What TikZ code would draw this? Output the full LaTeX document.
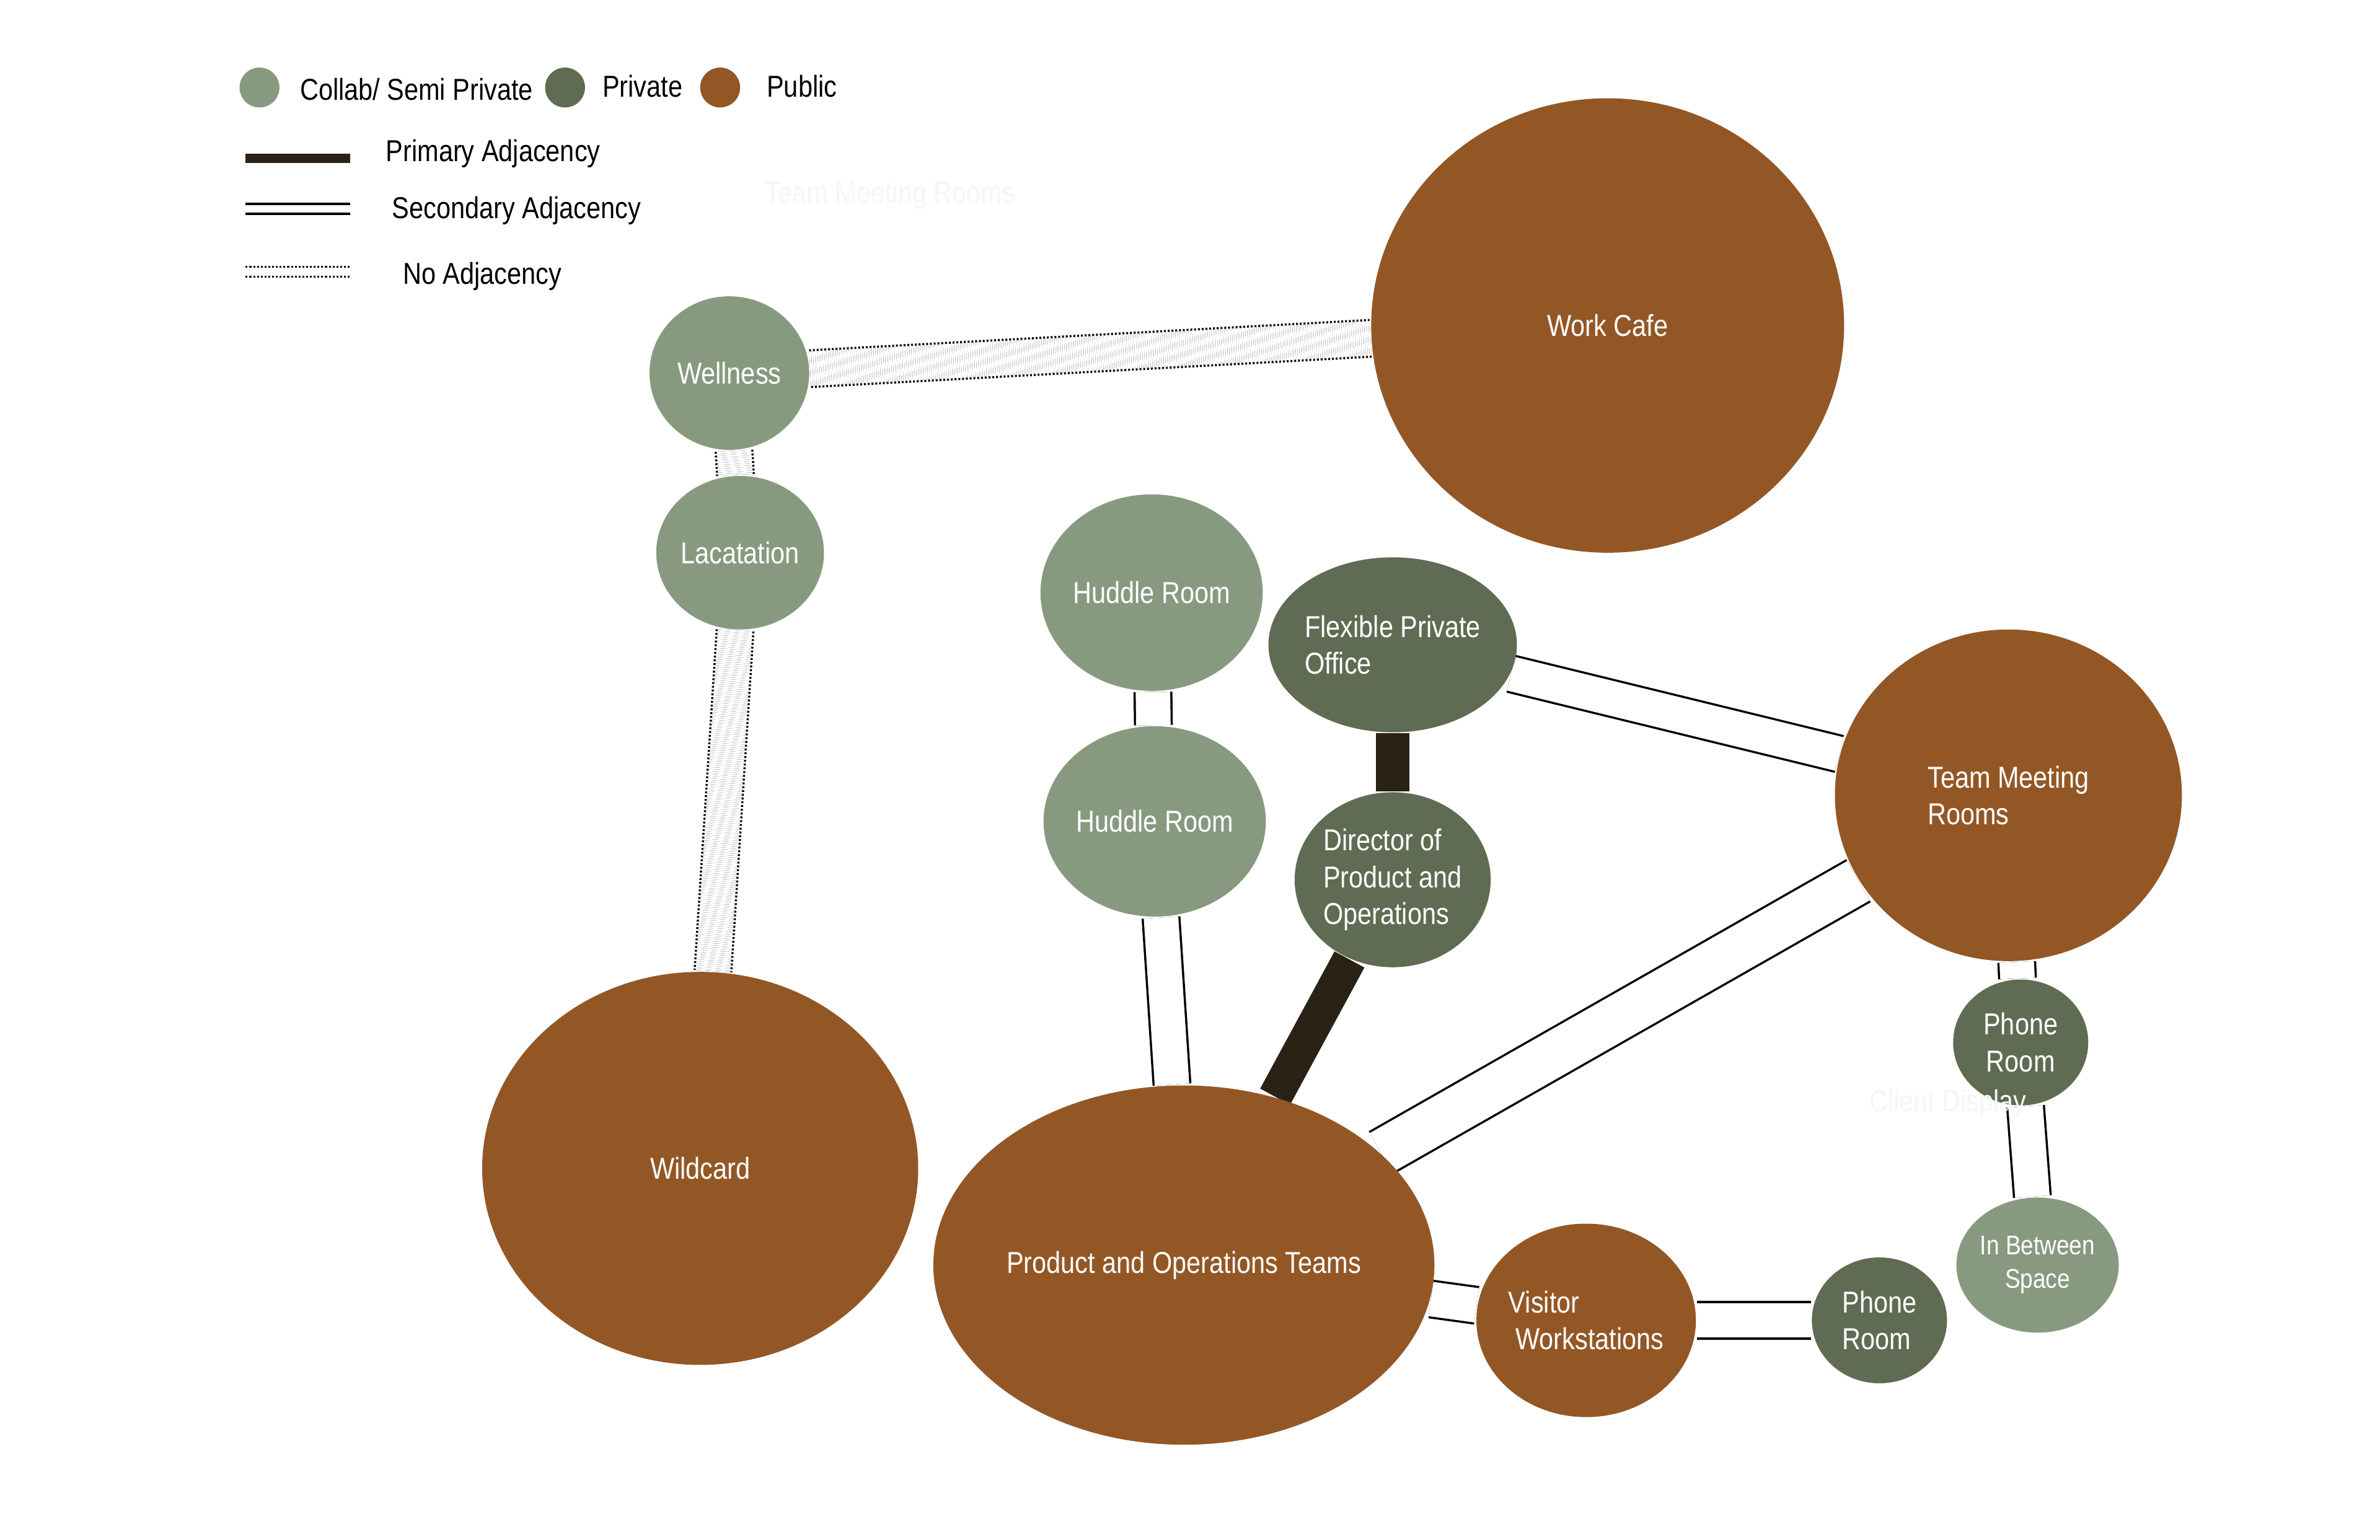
\documentclass[tikz,border=0pt]{standalone}
\usepackage{fontspec}
\setmainfont[FakeStretch=0.85]{Liberation Sans}
\usetikzlibrary{shapes.geometric, backgrounds}
\definecolor{collab}{HTML}{879A80}
\definecolor{private}{HTML}{606B53}
\definecolor{public}{HTML}{935726}
\definecolor{primcol}{HTML}{2A2214}
\definecolor{faint}{HTML}{F4F7F2}
\tikzset{
	room/.style={ellipse, inner sep=0pt, text=white, font=\fontsize{5.6}{6.8}\selectfont},
	sz/.style 2 args={minimum width=#1*0.01cm, minimum height=#2*0.01cm},
	semi/.style={room, fill=collab},
	priv/.style={room, fill=private},
	pub/.style={room, fill=public},
	primary/.style={primcol, line width=6.3pt},
	secondary/.style={draw=black, line width=0.4pt, double=white, double distance=6.4pt},
	noadj/.style={secondary, dash pattern=on 0.35pt off 0.35pt},
	legtext/.style={anchor=west, font=\fontsize{5.6}{6.8}\selectfont}
}
\begin{document}
\begin{tikzpicture}[x=0.01cm, y=-0.01cm]
	\useasboundingbox (0,0) rectangle (1550,1003);
	% Legend
	\node[semi, sz={26}{26}] (lgsemi) at (169,57) {};
	\node[legtext] (lgsemitxt) at (183,58) {Collab/ Semi Private};
	\node[priv, sz={26}{26}] (lgpriv) at (368,57) {};
	\node[legtext] (lgprivtxt) at (380,56) {Private};
	\node[pub, sz={26}{26}] (lgpub) at (469,57) {};
	\node[legtext] (lgpubtxt) at (487,56) {Public};
	\coordinate (lga1) at (160,103); \coordinate (lga2) at (228,103);
	\coordinate (lgb1) at (160,136); \coordinate (lgb2) at (228,136);
	\coordinate (lgc1) at (160,177); \coordinate (lgc2) at (228,177);
	\draw[primcol, line width=1.7pt] (lga1) -- (lga2);
	\draw[secondary, double distance=1.4pt] (lgb1) -- (lgb2);
	\draw[noadj, double distance=1.4pt] (lgc1) -- (lgc2);
	\node[legtext] (lgatxt) at (239,100) {Primary Adjacency};
	\node[legtext] (lgbtxt) at (243,137) {Secondary Adjacency};
	\node[legtext] (lgctxt) at (250,180) {No Adjacency};
	% Rooms
	\node[semi, sz={104}{100}] (well) at (475,243) {Wellness};
	\node[semi, sz={104}{100}] (lac) at (482,360) {Lacatation};
	\node[pub, sz={308}{296}] (cafe) at (1047,212) {Work Cafe};
	\node[semi, sz={134}{128}] (hud1) at (750,386) {Huddle Room};
	\node[semi, sz={130}{124}] (hud2) at (752,535) {Huddle Room};
	\node[priv, sz={120}{114}, align=left] (flex) at (907,420) {Flexible Private\\Office};
	\node[priv, sz={120}{114}, align=left] (dir) at (907,573) {Director of\\Product and\\Operations};
	\node[pub, sz={226}{216}, align=left] (team) at (1308,518) {Team Meeting\\Rooms};
	\node[priv, sz={88}{82}, align=center] (phone1) at (1316,679) {Phone\\Room};
	\node[semi, sz={92}{88}, align=center, font=\fontsize{5}{6.2}\selectfont] (between) at (1327,824) {In Between\\Space};
	\node[pub, sz={284}{256}] (wild) at (456,761) {Wildcard};
	\node[pub, sz={240}{234}] (prod) at (771,824) {Product and Operations Teams};
	\node[pub, sz={128}{126}, align=left] (visit) at (1033,860) {Visitor\\\ Workstations};
	\node[priv, sz={88}{82}, align=left] (phone2) at (1224,860) {Phone\\Room};
	% Adjacencies
	\begin{scope}[on background layer]
		\draw[noadj] (well) -- (cafe);
		\draw[noadj] (well) -- (lac);
		\draw[noadj] (lac) -- (wild);
		\draw[secondary] (hud1) -- (hud2);
		\draw[secondary] (hud2) -- (prod);
		\draw[primary] (flex) -- (dir);
		\draw[primary] (dir) -- (prod);
		\draw[secondary] (flex) -- (team);
		\draw[secondary, double distance=8.4pt] (team) -- (prod);
		\draw[secondary] (team) -- (phone1);
		\draw[secondary] (phone1) -- (between);
		\draw[secondary] (prod) -- (visit);
		\draw[secondary] (visit) -- (phone2);
	\end{scope}
	% Faint labels
	\node[anchor=west, text=faint, font=\fontsize{5.6}{6.8}\selectfont] (ghost1) at (486,127) {Team Meeting Rooms};
	\node[anchor=west, text=faint, font=\fontsize{5.6}{6.8}\selectfont] (ghost2) at (1205,719) {Client Display};
\end{tikzpicture}
\end{document}
